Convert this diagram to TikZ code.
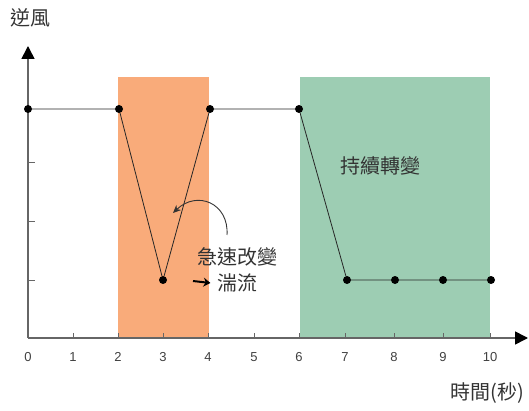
\documentclass[tikz,border=0pt]{standalone}
\usepackage{fontspec}
\setmainfont{Liberation Sans}
\newfontfamily\cjk{Noto Sans CJK TC}
\usetikzlibrary{arrows.meta}

\begin{document}
\begin{tikzpicture}[x=1pt,y=-1pt,
  dot/.style={circle,fill=black,inner sep=0pt,minimum size=8},
  axis/.style={draw=black!60,line width=1.6pt,-{Triangle[length=13pt,width=13pt,black]}},
  tick/.style={draw=black!60,line width=0.8pt},
  num/.style={text=black!75,font=\fontsize{13}{15}\selectfont},
  cjklabel/.style={text=black!80,font=\cjk\fontsize{20}{24}\selectfont}]
\definecolor{apricot}{HTML}{F9AB7A}
\definecolor{seafoam}{HTML}{9DCDB3}
\useasboundingbox (0,0) rectangle (529,411);
\fill[apricot] (118,77) rectangle (209,338);
\fill[seafoam] (300,77) rectangle (490,338);
\coordinate (o) at (28,338);
\coordinate (ytop) at (28,46);
\coordinate (xend) at (528,338);
\draw[axis] (o) -- (ytop);
\draw[axis] (o) -- (xend);
  \foreach \lbl/\px in {0/28,1/73,2/118,3/163,4/208,5/254,6/299,7/345,8/394,9/443,10/490}
  {  \draw[tick] (\px,338) -- (\px,333);
     \node[num] (t\lbl) at (\px,357) {\lbl};}
  \foreach \py in {162,221,280}
  {  \draw[tick] (28,\py) -- (35,\py);}
  \foreach \nm/\px/\py in {a/28/109,b/119/109,c/163/280,d/210/109,e/299/109,f/347/280,g/395/280,h/443/280,k/491/280}
  {  \node[dot] (\nm) at (\px,\py) {};}
\draw[black!85,line width=0.8pt] (a) -- (b) -- (c) -- (d) -- (e) -- (f) -- (g) -- (h) -- (k);
\node[cjklabel] (ylabel) at (30,18) {逆風};
\node[cjklabel,anchor=east] (xlabel) at (528,393) {時間(秒)};
\node[cjklabel] (steady) at (380,166) {持續轉變};
\node[cjklabel] (sudden) at (237,257) {急速改變};
\node[cjklabel] (gust) at (237,283) {湍流};
\coordinate (curlfrom) at (227,235);
\coordinate (curlto) at (173,213);
\draw[black!80,line width=0.9pt,-{Stealth[length=8pt,width=7pt]}] (curlfrom) .. controls (229,203) and (197,190) .. (curlto);
\coordinate (shortfrom) at (193,281);
\draw[black,line width=2pt,-{Stealth[length=7pt,width=9pt]}] (shortfrom) -- ([xshift=-3pt]gust.west);
\end{tikzpicture}
\end{document}
